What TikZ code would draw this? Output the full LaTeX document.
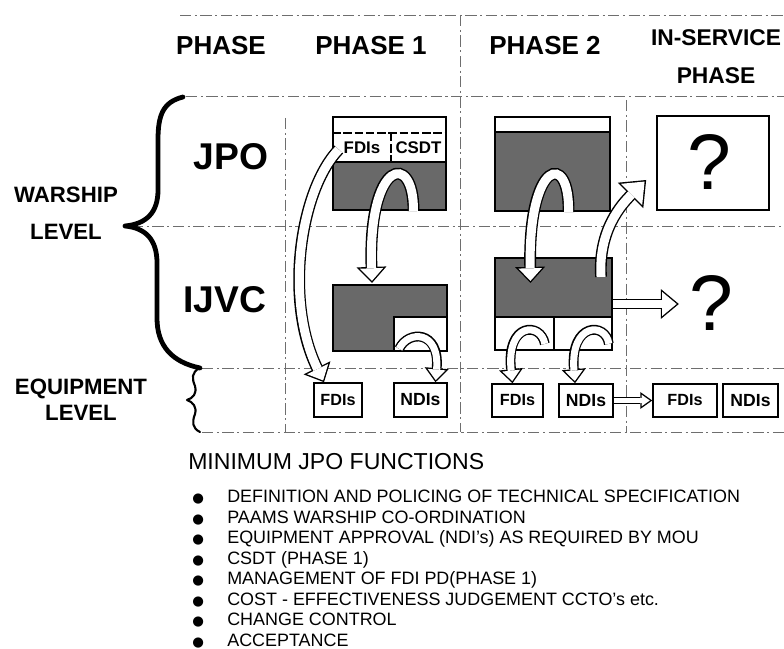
\documentclass[tikz,border=0pt]{standalone}
\usepackage{fontspec}
\setmainfont{Liberation Sans}
\newfontfamily\dotfont{DejaVu Sans}
\usepackage{tikz}
\usetikzlibrary{arrows.meta,positioning,fit,calc}
\definecolor{grain}{RGB}{105,105,105}
\definecolor{rule}{RGB}{110,110,110}
\tikzset{
  gridline/.style={draw=rule, line width=0.5pt, dash pattern=on 8pt off 2.5pt on 1.5pt off 2.5pt},
  curly/.style={draw, line width=3.4pt, line cap=round, line join=round},
  phasehd/.style={font=\bfseries\fontsize{18.5}{22}\selectfont, inner sep=0pt},
  rowhd/.style={font=\bfseries\fontsize{26.5}{30}\selectfont, inner sep=0pt},
  levelhd/.style={font=\bfseries\fontsize{15.8}{26}\selectfont, align=center, inner sep=0pt},
  org/.style={draw, line width=1.5pt, fill=grain, inner sep=0pt},
  cell/.style={draw, line width=1.2pt, fill=white, inner sep=0pt},
  celltxt/.style={inner sep=0pt, font=\bfseries\fontsize{12}{14}\selectfont},
  split/.style={draw, line width=0.8pt, dash pattern=on 6pt off 2pt},
  equip/.style={draw, line width=1.1pt, fill=white, inner sep=0pt},
  eqtxt/.style={inner sep=0pt, font=\bfseries\fontsize{11.5}{13}\selectfont},
  ndtxt/.style={inner sep=0pt, font=\bfseries\fontsize{12.5}{14}\selectfont},
  query/.style={inner sep=0pt, font=\fontsize{56}{56}\selectfont},
  fnhead/.style={inner sep=0pt, font=\fontsize{16.4}{18}\selectfont},
  fnlist/.style={inner sep=0pt, align=left, font=\fontsize{12.75}{14.6}\selectfont},
  % hollow block arrows: black rim first, white core on top
  big rim/.style={line width=8.4pt, -{Triangle[length=11.4pt, width=21.3pt, line width=0pt]}},
  big core/.style={white, line width=6.4pt, shorten >=1.46pt, -{Triangle[length=8.94pt, width=16.7pt, line width=0pt]}},
  wide rim/.style={line width=8.4pt, -{Triangle[length=15.6pt, width=25.6pt, line width=0pt]}},
  wide core/.style={white, line width=6.4pt, shorten >=1.58pt, -{Triangle[length=13.03pt, width=21.38pt, line width=0pt]}},
  mid rim/.style={line width=7pt, -{Triangle[length=12.8pt, width=21.3pt, line width=0pt]}},
  mid core/.style={white, line width=5pt, shorten >=1.56pt, -{Triangle[length=10.24pt, width=17.08pt, line width=0pt]}},
  small rim/.style={line width=7pt, -{Triangle[length=10pt, width=17.1pt, line width=0pt]}},
  small core/.style={white, line width=5pt, shorten >=1.54pt, -{Triangle[length=7.46pt, width=12.76pt, line width=0pt]}},
  thin rim/.style={line width=5.2pt, -{Triangle[length=8.5pt, width=12.1pt, line width=0pt]}},
  thin core/.style={white, line width=3.2pt, shorten >=1.72pt, -{Triangle[length=5.78pt, width=8.23pt, line width=0pt]}}
}
\newcommand{\blockarrow}[2]{\draw[#1 rim] #2; \draw[#1 core] #2;}
\newcommand{\blt}{\makebox[24.9pt][l]{\dotfont\fontsize{9.5}{10}\selectfont ●}}

\begin{document}
\begin{tikzpicture}[x=0.025cm, y=-0.025cm]
  \useasboundingbox (0,0) rectangle (784,649);
  % grid
  \draw[gridline] (180,15) -- (784,15);
  \draw[gridline] (186,96) -- (784,96);
  \draw[gridline] (132,226) -- (784,226);
  \draw[gridline] (202,368) -- (784,368);
  \draw[gridline] (202,432) -- (784,432);
  \draw[gridline] (460,15) -- (460,432);
  \draw[gridline] (285,118) -- (285,432);
  \draw[gridline] (626,100) -- (626,432);

  % braces
  \draw[curly] (183,97) .. controls (163,102) and (158,115) .. (158,140) -- (158,190)
    .. controls (158,213) and (146,224) .. (125,226) .. controls (146,228) and (157,240) .. (157,263)
    -- (157,318) .. controls (157,346) and (172,362) .. (200,368);
  \draw[curly, line width=1.5pt] (200,368) .. controls (191,372) and (192,379) .. (195,386)
    .. controls (197,394) and (193,398) .. (187,400) .. controls (193,402) and (197,407) .. (195,414)
    .. controls (192,422) and (192,428) .. (200,432);

  % headings
  \node[phasehd] (hphase) at (221,46) {PHASE};
  \node[phasehd] (hphaseA) at (371,46) {PHASE 1};
  \node[phasehd] (hphaseB) at (545,46) {PHASE 2};
  \node[phasehd, align=center, font=\bfseries\fontsize{16.2}{27}\selectfont] (hservice) at (716,57) {IN-SERVICE\\PHASE};
  \node[rowhd] (jpo) at (231,157) {JPO};
  \node[rowhd] (ijvc) at (225,300) {IJVC};
  \node[levelhd] (warship) at (66,213) {WARSHIP\\LEVEL};
  \node[levelhd, font=\bfseries\fontsize{15.8}{18.5}\selectfont] (equiplvl) at (81,400) {EQUIPMENT\\LEVEL};

  % phase 1
  \node[org, fit={(333,117) (446,210)}] (jpoA) {};
  \node[cell, fit={(333,117) (446,162)}] (jpoAtop) {};
  \draw[split] (jpoAtop.west |- 0,133) -- (jpoAtop.east |- 0,133);
  \draw[split] (391,133) -- (391,162);
  \node[fit={(333,133) (391,162)}, inner sep=0pt] (fdiA) {};
  \node[fit={(391,133) (446,162)}, inner sep=0pt] (csdtA) {};
  \node[celltxt] (fdiAtxt) at (fdiA.center) {FDIs};
  \node[celltxt] (csdtAtxt) at (csdtA.center) {CSDT};
  \node[org, fit={(333,285) (447,351)}] (ijvcA) {};
  \node[cell, fit={(394,317) (447,351)}] (ndiAcell) {};
  \node[equip, fit={(314,383) (362,417)}] (fdiAeq) {};
  \node[equip, fit={(394,383) (447,417)}] (ndiAeq) {};
  \node[eqtxt] at (fdiAeq.center) (fdiAeqtxt) {FDIs};
  \node[ndtxt] at (ndiAeq.center) (ndiAeqtxt) {NDIs};

  % phase 2
  \node[org, fit={(495,117) (610,211)}] (jpoB) {};
  \node[cell, fit={(495,117) (610,132)}] (jpoBtop) {};
  \node[org, fit={(495,258) (612,350)}] (ijvcB) {};
  \node[cell, fit={(495,317) (554,350)}] (fdiBcell) {};
  \node[cell, fit={(554,317) (612,350)}] (ndiBcell) {};
  \node[equip, fit={(492,384) (543,417)}] (fdiBeq) {};
  \node[equip, fit={(559,384) (613,417)}] (ndiBeq) {};
  \node[eqtxt] at (fdiBeq.center) (fdiBeqtxt) {FDIs};
  \node[ndtxt] at (ndiBeq.center) (ndiBeqtxt) {NDIs};

  % in-service phase
  \node[cell, fit={(657,116) (769,210)}] (jpoC) {};
  \node[query] (qA) at (709,162) {?};
  \node[query] (qB) at (711,303) {?};
  \node[equip, fit={(653,384) (717,417)}] (fdiCeq) {};
  \node[equip, fit={(723,384) (778,417)}] (ndiCeq) {};
  \node[eqtxt] at (fdiCeq.center) (fdiCeqtxt) {FDIs};
  \node[ndtxt] at (ndiCeq.center) (ndiCeqtxt) {NDIs};

  % flows
  \blockarrow{big}{($(fdiA.west)+(6,2)$) .. controls (300,190) and (284,300) .. ($(fdiAeq.north)+(-14,0)$)}
  \blockarrow{big}{($(jpoA.south)+(24,0)$) .. controls (414,150) and (368,160) .. ($(ijvcA.north)+(-18,-1)$)}
  \blockarrow{small}{($(ndiAcell.south west)+(6,-3)$) .. controls (408,330) and (440,330) .. ($(ndiAeq.north)+(15,0)$)}
  \blockarrow{big}{($(jpoB.south)+(16,0)$) .. controls (570,150) and (528,160) .. ($(ijvcB.north)+(-23,26)$)}
  \blockarrow{wide}{($(ijvcB.north east)+(-12,20)$) .. controls (598,230) and (622,204) .. ($(jpoC.west)+(-10,17)$)}
  \blockarrow{small}{($(fdiBcell.south east)+(-10,-7)$) .. controls (541,322) and (506,322) .. ($(fdiBeq.north)+(-5,0)$)}
  \blockarrow{small}{($(ndiBcell.south east)+(-4,-7)$) .. controls (606,322) and (570,322) .. ($(ndiBeq.north)+(-11,0)$)}
  \blockarrow{mid}{(ijvcB.east) -- ($(qB.west)+(-10,1)$)}
  \blockarrow{thin}{(ndiBeq.east) -- (fdiCeq.west)}

  % functions
  \node[fnhead, anchor=west] (fnhd) at (188,462) {MINIMUM JPO FUNCTIONS};
  \node[fnlist, anchor=north west] (fnitems) at (192,490) {%
    \blt DEFINITION AND POLICING OF TECHNICAL SPECIFICATION\\
    \blt PAAMS WARSHIP CO-ORDINATION\\
    \blt EQUIPMENT APPROVAL (NDI's) AS REQUIRED BY MOU\\
    \blt CSDT (PHASE 1)\\
    \blt MANAGEMENT OF FDI PD(PHASE 1)\\
    \blt COST - EFFECTIVENESS JUDGEMENT CCTO's etc.\\
    \blt CHANGE CONTROL\\
    \blt ACCEPTANCE};
\end{tikzpicture}
\end{document}
